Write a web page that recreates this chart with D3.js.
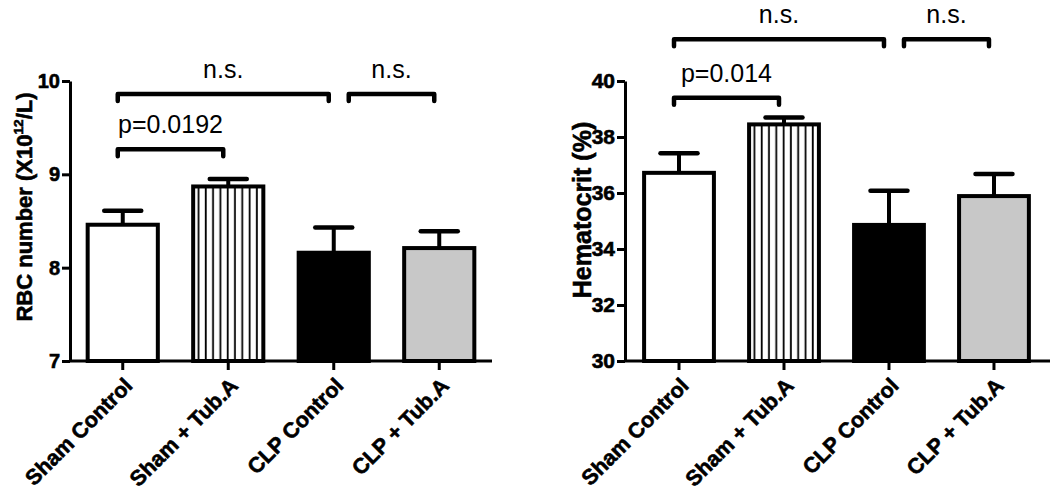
<!DOCTYPE html>
<html>
<head>
<meta charset="utf-8">
<script src="https://cdn.jsdelivr.net/npm/d3@7"></script>
<style>
body{margin:0;background:#fff}
svg{display:block;font-family:"Liberation Sans",Arial,sans-serif}
</style>
</head>
<body>
<svg width="1050" height="497"></svg>
<script>
// groups
var categories = ["Sham Control", "Sham + Tub.A", "CLP Control", "CLP + Tub.A"]

// RBC number (x10^12/L), mean and SEM
var rbcMean = [8.46, 8.87, 8.16, 8.21]
var rbcSem = [0.15, 0.08, 0.27, 0.18]
var rbcTicks = [7, 8, 9, 10]

// hematocrit (%), mean and SEM
var hctMean = [36.72, 38.45, 34.86, 35.89]
var hctSem = [0.70, 0.25, 1.22, 0.79]
var hctTicks = [30, 32, 34, 36, 38, 40]

// significance brackets: [from group, to group], height in data units, label
var rbcPairs = [[0, 1], [0, 2], [2, 3]]
var rbcLevels = [9.27, 9.86, 9.86]
var rbcLabels = ["p=0.0192", "n.s.", "n.s."]

var hctPairs = [[0, 1], [0, 2], [2, 3]]
var hctLevels = [39.40, 41.49, 41.49]
var hctLabels = ["p=0.014", "n.s.", "n.s."]

var fills = ["#ffffff", "stripes", "#000000", "#c8c8c8"]

var svg = d3.select("svg")
var defs = svg.append("defs")
var FONT = '"Liberation Sans",Arial,sans-serif'

// bold text in the figure is heavier than plain bold
function heavy(sel){
  sel.attr("stroke", "#000").attr("stroke-width", 0.6).attr("paint-order", "stroke")
}

function drawPanel(cfg){
  var g = svg.append("g")
  var y = d3.scaleLinear().domain([cfg.ticks[0], cfg.ticks[cfg.ticks.length-1]]).range([361, 81])
  var x = d3.scaleBand().domain(categories).range([cfg.left, cfg.right])
    .paddingInner(0).paddingOuter(cfg.padOuter).align(cfg.align)
  var bw = x.step()*0.665
  var cx = d => x(d) + x.bandwidth()/2

  // striped fill, lined up with the second bar
  var pat = defs.append("pattern")
    .attr("id", "stripes-" + cfg.id)
    .attr("patternUnits", "userSpaceOnUse")
    .attr("x", cx(categories[1]) - bw/2)
    .attr("width", 7.3).attr("height", 10)
  pat.append("rect").attr("width", 7.3).attr("height", 10).attr("fill", "#fff")
  pat.append("rect").attr("x", 4.4).attr("width", 1.8).attr("height", 10).attr("fill", "#000")

  var rows = categories.map((c, i) => ({cat: c, mean: cfg.mean[i], sem: cfg.sem[i], fill: fills[i]}))

  // error bars (upper only)
  var eb = g.selectAll("g.err").data(rows).enter().append("g")
  eb.append("line")
    .attr("x1", d => cx(d.cat)).attr("x2", d => cx(d.cat))
    .attr("y1", d => y(d.mean)).attr("y2", d => y(d.mean + d.sem))
    .attr("stroke", "#000").attr("stroke-width", 4)
  eb.append("line")
    .attr("x1", d => cx(d.cat) - 18.5).attr("x2", d => cx(d.cat) + 18.5)
    .attr("y1", d => y(d.mean + d.sem)).attr("y2", d => y(d.mean + d.sem))
    .attr("stroke", "#000").attr("stroke-width", 4.5).attr("stroke-linecap", "round")

  g.selectAll("rect.bar").data(rows).enter().append("rect")
    .attr("x", d => cx(d.cat) - bw/2)
    .attr("y", d => y(d.mean))
    .attr("width", bw)
    .attr("height", d => y.range()[0] - y(d.mean))
    .attr("fill", d => d.fill == "stripes" ? "url(#stripes-" + cfg.id + ")" : d.fill)
    .attr("stroke", "#000").attr("stroke-width", 4)

  // axes
  var ya = g.append("g").attr("transform", "translate(" + cfg.left + ",0)")
    .call(d3.axisLeft(y).tickValues(cfg.ticks).tickFormat(d3.format("d"))
      .tickSize(8).tickSizeOuter(0).tickPadding(2))
  ya.selectAll("path,line").attr("stroke", "#000").attr("stroke-width", 3)
  ya.selectAll("text").attr("fill", "#000")
    .style("font-size", cfg.tickFont + "px").style("font-weight", "bold").style("font-family", FONT)
    .call(heavy)

  var xa = g.append("g").attr("transform", "translate(0,361)")
    .call(d3.axisBottom(x).tickSize(9).tickSizeOuter(0))
  xa.select(".domain").attr("d", "M" + cfg.left + ",0H" + cfg.axisEnd)
  xa.selectAll("path,line").attr("stroke", "#000").attr("stroke-width", 3)
  xa.selectAll("text")
    .attr("y", 0).attr("dy", 0)
    .attr("text-anchor", "end")
    .attr("transform", "translate(11,26) rotate(-45)")
    .attr("fill", "#000")
    .style("font-size", "21.5px").style("font-weight", "bold").style("font-family", FONT)
    .call(heavy)

  // y title
  var t = g.append("text")
    .attr("transform", "translate(" + (cfg.left - cfg.titleOff) + "," + cfg.titleY + ") rotate(-90)")
    .attr("text-anchor", "middle")
    .style("font-size", cfg.titleFont + "px").style("font-weight", "bold")
    .call(heavy)
  cfg.title.forEach(p => {
    var s = t.append("tspan").text(p.t)
    if (p.sup) s.style("font-size", (cfg.titleFont*0.62) + "px").attr("dy", -cfg.titleFont*0.42)
    if (p.after) s.attr("dy", cfg.titleFont*0.42)
  })

  // significance brackets
  var ends = cfg.pairs.map(p => p[1])
  cfg.pairs.forEach((p, i) => {
    var x1 = cx(categories[p[0]]) + (ends.indexOf(p[0]) >= 0 && i > 0 ? 15 : -5)
    var x2 = cx(categories[p[1]]) - 5
    var yy = y(cfg.levels[i])
    g.append("path")
      .attr("d", "M" + x1 + "," + (yy + 7) + "V" + yy + "H" + x2 + "V" + (yy + 7))
      .attr("fill", "none").attr("stroke", "#000").attr("stroke-width", 4.5)
      .attr("stroke-linejoin", "round").attr("stroke-linecap", "round")
    g.append("text")
      .attr("x", (x1 + x2)/2).attr("y", yy - 16)
      .attr("text-anchor", "middle")
      .style("font-size", "25px")
      .text(cfg.labels[i])
  })
}

drawPanel({
  id: "rbc", left: 70, right: 492, axisEnd: 492, padOuter: 0, align: 0.5,
  mean: rbcMean, sem: rbcSem, ticks: rbcTicks, tickFont: 20,
  pairs: rbcPairs, levels: rbcLevels, labels: rbcLabels,
  title: [{t: "RBC number (X10"}, {t: "12", sup: true}, {t: "/L)", after: true}],
  titleFont: 22, titleOff: 38, titleY: 207
})

drawPanel({
  id: "hct", left: 625, right: 1050, axisEnd: 1050, padOuter: 0.024, align: 0.3,
  mean: hctMean, sem: hctSem, ticks: hctTicks, tickFont: 21,
  pairs: hctPairs, levels: hctLevels, labels: hctLabels,
  title: [{t: "Hematocrit (%)"}],
  titleFont: 25, titleOff: 34, titleY: 210
})
</script>
</body>
</html>
